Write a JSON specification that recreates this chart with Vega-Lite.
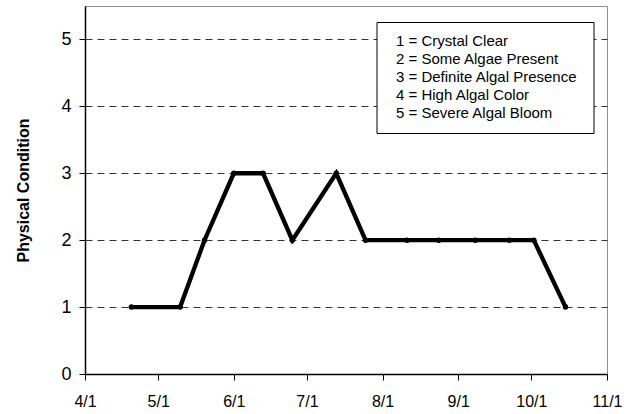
{
  "$schema": "https://vega.github.io/schema/vega-lite/v6.json",
  "width": 522,
  "height": 368,
  "autosize": {"type": "none"},
  "padding": {"left": 85, "top": 6, "right": 32, "bottom": 40},
  "background": "white",
  "config": {
    "view": {"stroke": "#8c8c8c", "strokeWidth": 1},
    "font": "Liberation Sans"
  },
  "layer": [
    {
      "data": {
        "values": [
          {"date": "2008/04/20", "condition": 1},
          {"date": "2008/05/10", "condition": 1},
          {"date": "2008/05/20", "condition": 2},
          {"date": "2008/06/01", "condition": 3},
          {"date": "2008/06/13", "condition": 3},
          {"date": "2008/06/25", "condition": 2},
          {"date": "2008/07/13", "condition": 3},
          {"date": "2008/07/25", "condition": 2},
          {"date": "2008/08/11", "condition": 2},
          {"date": "2008/08/24", "condition": 2},
          {"date": "2008/09/08", "condition": 2},
          {"date": "2008/09/22", "condition": 2},
          {"date": "2008/10/02", "condition": 2},
          {"date": "2008/10/15", "condition": 1}
        ]
      },
      "mark": {
        "type": "line",
        "color": "black",
        "strokeWidth": 4.3,
        "point": {"filled": true, "color": "black", "size": 30}
      },
      "encoding": {
        "x": {
          "field": "date",
          "type": "temporal",
          "scale": {
            "domain": [
              {"year": 2008, "month": 4, "date": 1},
              {"year": 2008, "month": 11, "date": 1}
            ]
          },
          "axis": {
            "title": null,
            "format": "%-m/%-d",
            "tickCount": {"interval": "month", "step": 1},
            "grid": false,
            "labelFlush": false,
            "labelOverlap": false,
            "domainColor": "black",
            "domainWidth": 1.5,
            "tickColor": "black",
            "tickSize": 6,
            "labelFontSize": 16,
            "labelPadding": 13,
            "labelColor": "black",
            "labelFont": "Liberation Sans"
          }
        },
        "y": {
          "field": "condition",
          "type": "quantitative",
          "scale": {"domain": [0, 5.5]},
          "axis": {
            "title": "Physical Condition",
            "values": [0, 1, 2, 3, 4, 5],
            "grid": true,
            "gridDash": [7, 5],
            "gridColor": "#333333",
            "gridWidth": 1,
            "domainColor": "black",
            "domainWidth": 1.5,
            "tickColor": "black",
            "tickSize": 6,
            "labelFontSize": 18,
            "labelPadding": 8,
            "labelColor": "black",
            "labelFont": "Liberation Sans",
            "titleFont": "Liberation Sans",
            "titleFontSize": 16,
            "titleFontWeight": "bold",
            "titleColor": "black",
            "titlePadding": 29
          }
        }
      }
    },
    {
      "data": {
        "values": [
          {"code": "1 = Crystal Clear"},
          {"code": "2 = Some Algae Present"},
          {"code": "3 = Definite Algal Presence"},
          {"code": "4 = High Algal Color"},
          {"code": "5 = Severe Algal Bloom"}
        ]
      },
      "mark": {"type": "point", "opacity": 0},
      "encoding": {
        "color": {
          "field": "code",
          "type": "nominal",
          "scale": {"range": ["black"]},
          "legend": {
            "orient": "none",
            "legendX": 291.5,
            "legendY": 16,
            "title": " ",
            "titleOrient": "right",
            "titlePadding": 5,
            "padding": 11.5,
            "strokeColor": "black",
            "fillColor": "white",
            "labelFont": "Liberation Sans",
            "labelFontSize": 15,
            "labelLimit": 400,
            "labelColor": "black",
            "rowPadding": 2,
            "symbolSize": 0,
            "symbolOpacity": 0,
            "symbolStrokeWidth": 0,
            "labelOffset": -7,
            "encode": {
              "legend": {"update": {"strokeWidth": {"value": 2}}}
            }
          }
        }
      }
    }
  ]
}
